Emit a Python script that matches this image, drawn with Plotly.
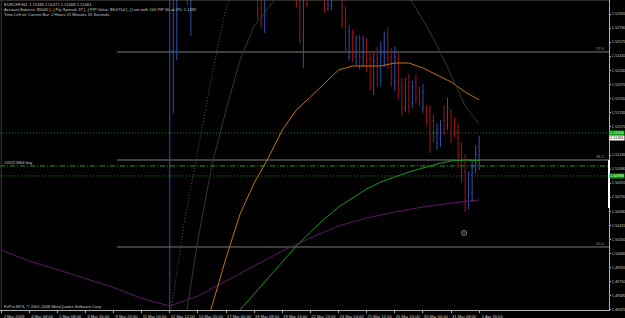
import plotly.graph_objects as go

# ---------------- data ----------------
bar_idx = [48, 49, 50, 53, 54, 73, 74, 75, 84, 85, 86, 87, 92, 93, 94, 97, 98,
           99, 100, 101, 102, 103, 104, 105, 106, 107, 108, 109, 110, 111, 112, 113,
           114, 115, 116, 117, 118, 119, 120, 121, 122, 123, 124, 125, 126, 127, 128,
           129, 130, 131, 132, 133, 134, 135, 136]
bar_open = [1.4880, 1.5248, 1.5248, 1.5340, 1.5280, 1.5330, 1.5310, 1.5275, 1.5320, 1.5305,
            1.5260, 1.5320, 1.5320, 1.5296, 1.5300, 1.5320, 1.5280,
            1.5240, 1.5268, 1.5240, 1.5262, 1.5238, 1.5258, 1.5238, 1.5205, 1.5238, 1.5215,
            1.5245, 1.5265, 1.5240, 1.5212, 1.5238, 1.5205, 1.5180, 1.5205, 1.5185, 1.5210,
            1.5200, 1.5180, 1.5180, 1.5178, 1.5165, 1.5138, 1.5145, 1.5165, 1.5160, 1.5172,
            1.5160, 1.5152, 1.5130, 1.5105, 1.5070, 1.5080, 1.5110, 1.51186]
bar_high = [1.5380, 1.5345, 1.5360, 1.5350, 1.5350, 1.5345, 1.5330, 1.5335, 1.5335, 1.5315,
            1.5312, 1.5330, 1.5330, 1.5330, 1.5325, 1.5330, 1.5300,
            1.5278, 1.5272, 1.5265, 1.5266, 1.5265, 1.5262, 1.5245, 1.5245, 1.5252, 1.5258,
            1.5270, 1.5275, 1.5250, 1.5252, 1.5245, 1.5215, 1.5215, 1.5220, 1.5212, 1.5220,
            1.5205, 1.5208, 1.5183, 1.5183, 1.5172, 1.5162, 1.5166, 1.5183, 1.5192, 1.5178,
            1.5169, 1.5162, 1.5139, 1.5125, 1.5105, 1.5119, 1.5136, 1.51471]
bar_low = [1.4870, 1.5174, 1.5236, 1.5301, 1.5265, 1.5284, 1.5274, 1.5268, 1.5298, 1.5256,
           1.5227, 1.5299, 1.5292, 1.5295, 1.5295, 1.5274, 1.5245,
           1.5236, 1.5234, 1.5230, 1.5225, 1.5228, 1.5222, 1.5200, 1.5195, 1.5205, 1.5205,
           1.5228, 1.5225, 1.5205, 1.5200, 1.5190, 1.5170, 1.5175, 1.5174, 1.5180, 1.5185,
           1.5182, 1.5174, 1.5160, 1.5127, 1.5139, 1.5130, 1.5134, 1.5148, 1.5154, 1.5139,
           1.5146, 1.5109, 1.5092, 1.5057, 1.5060, 1.5069, 1.5103, 1.51068]
bar_close = [1.5330, 1.5325, 1.5335, 1.5310, 1.5330, 1.5290, 1.5278, 1.5320, 1.5302, 1.5258,
             1.5300, 1.5302, 1.5295, 1.5315, 1.5318, 1.5278, 1.5250,
             1.5270, 1.5245, 1.5262, 1.5240, 1.5258, 1.5235, 1.5210, 1.5235, 1.5215, 1.5248,
             1.5262, 1.5238, 1.5215, 1.5240, 1.5200, 1.5180, 1.5205, 1.5182, 1.5205, 1.5192,
             1.5186, 1.5198, 1.5168, 1.5140, 1.5150, 1.5155, 1.5160, 1.5150, 1.5180, 1.5150,
             1.5150, 1.5122, 1.5100, 1.5070, 1.5090, 1.5110, 1.5125, 1.51461]

# moving averages
ma_purple_x = [0, 8, 16, 24, 32, 40, 48, 56, 64, 72, 80, 88, 96, 104, 112, 120, 128, 136]
ma_purple_y = [1.50127, 1.49997, 1.49897, 1.49791, 1.49685, 1.49556, 1.49467, 1.49585,
               1.49762, 1.49938, 1.50115, 1.50268, 1.50409, 1.50503, 1.50574, 1.50633,
               1.50680, 1.50715]

ma_green_x = [64, 68, 72, 76, 80, 84, 88, 92, 96, 100, 104, 108, 112, 116, 120, 124, 128, 132, 136]
ma_green_y = [1.49232, 1.49420, 1.49608, 1.49797, 1.49985, 1.50174, 1.50338, 1.50492,
              1.50633, 1.50739, 1.50845, 1.50927, 1.50986, 1.51045, 1.51092, 1.51139,
              1.51174, 1.51186, 1.51180]

ma_orange_x = [56, 60, 64, 68, 72, 76, 80, 84, 88, 92, 96, 100, 104, 108, 112, 116, 120,
               124, 128, 132, 136]
ma_orange_y = [1.48950, 1.49467, 1.50032, 1.50550, 1.50915, 1.51210, 1.51539, 1.51775,
               1.51928, 1.52093, 1.52246, 1.52293, 1.52293, 1.52293, 1.52328, 1.52328,
               1.52269, 1.52187, 1.52105, 1.51987, 1.51893]

ma_teal_x = [52, 56, 60, 64, 68, 72, 76, 80, 88, 100, 112, 116, 120, 124, 128, 132, 136]
ma_teal_y = [1.49185, 1.50244, 1.51127, 1.51775, 1.52364, 1.52764, 1.52976, 1.53188,
             1.53350, 1.53400, 1.53310, 1.53105, 1.52835, 1.52540, 1.52187, 1.51822, 1.51610]

ma_dot_x = [48, 52, 56, 60, 64, 68, 72]
ma_dot_y = [1.49302, 1.50421, 1.51304, 1.52187, 1.52976, 1.53400, 1.53600]

fib_levels = [1.52458, 1.51186, 1.50162]
fib_labels = ["23.6", "38.2", "50.0"]
fib_start = 33

order_dotted = [1.51504, 1.50998]
order_entry = 1.51116
order_label = "#05222864 buy"
bid_price = 1.51461

x_tickvals = [0, 8, 16, 24, 32, 40, 48, 56, 64, 72, 80, 88, 96, 104, 112, 120, 128, 136]
x_ticktext = ["2 Mar 2009", "4 Mar 08:00", "5 Mar 08:00", "6 Mar 16:00", "9 Mar 20:00",
              "11 Mar 04:00", "12 Mar 12:00", "13 Mar 20:00", "17 Mar 00:00", "18 Mar 08:00",
              "19 Mar 16:00", "22 Mar 23:00", "24 Mar 04:00", "25 Mar 12:00", "26 Mar 20:00",
              "30 Mar 00:00", "31 Mar 08:00", "1 Apr 16:00"]

# (the 1.51410 scale label is hidden under the bid-price box in the reference)
y_tickvals = [1.52905, 1.52740, 1.52575, 1.52410, 1.52240, 1.52075, 1.51910, 1.51745,
              1.51575, 1.51245, 1.51080, 1.50915, 1.50750, 1.50580, 1.50415,
              1.50250, 1.50085, 1.49915, 1.49750, 1.49585, 1.49425]
y_ticktext = ["%.5f" % v for v in y_tickvals]

header_lines = [
    "EURCHF,H4  1.51186 1.51471 1.51068 1.51461",
    "Account Balance: $5000 [--] Pip Spread: 37 [--] PIP Value: $8.6754 [--] Lots with 100 PIP SL at 2%: 1.1492",
    "Time Left on Current Bar: 2 Hours 21 Minutes 35 Seconds",
]
footer_text = "FxPro MT4, \u00a9 2001-2008 MetaQuotes Software Corp."

marker_x = [131.7]
marker_y = [1.50327]

# ---------------- figure ----------------
FS = 4.1
YFS = 3.8
FONT = "Liberation Sans"
TXT = "#c8c8c8"

fig = go.Figure()

fig.add_trace(go.Scatter(x=ma_purple_x, y=ma_purple_y, mode="lines",
                         line=dict(color="#62146a", width=1), hoverinfo="skip"))
fig.add_trace(go.Scatter(x=ma_green_x, y=ma_green_y, mode="lines",
                         line=dict(color="#1c9a1c", width=1), hoverinfo="skip"))
fig.add_trace(go.Scatter(x=ma_orange_x, y=ma_orange_y, mode="lines",
                         line=dict(color="#c8700c", width=1), hoverinfo="skip"))
fig.add_trace(go.Scatter(x=ma_teal_x, y=ma_teal_y, mode="lines",
                         line=dict(color="#243e36", width=1), hoverinfo="skip"))
fig.add_trace(go.Scatter(x=ma_dot_x, y=ma_dot_y, mode="lines",
                         line=dict(color="#505656", width=1, dash="1px,2px"), hoverinfo="skip"))

fig.add_trace(go.Ohlc(x=bar_idx, open=bar_open, high=bar_high, low=bar_low, close=bar_close,
                      increasing=dict(line=dict(color="#3050b0", width=1)),
                      decreasing=dict(line=dict(color="#a01414", width=1)),
                      tickwidth=0.3, hoverinfo="skip"))

fig.add_trace(go.Scatter(x=marker_x, y=marker_y, mode="markers",
                         marker=dict(symbol="circle-open-dot", size=5,
                                     color="#8a8aa0", line=dict(width=1, color="#8a8aa0")),
                         hoverinfo="skip"))

shapes = []
for lv in fib_levels:
    shapes.append(dict(type="line", xref="x", yref="y", x0=fib_start, x1=172.92, y0=lv, y1=lv,
                       line=dict(color="#7c7c7c", width=1), layer="below"))
for lv in order_dotted:
    shapes.append(dict(type="line", xref="paper", yref="y", x0=0, x1=1, y0=lv, y1=lv,
                       line=dict(color="#168a16", width=1, dash="1px,2px"), layer="below"))
shapes.append(dict(type="line", xref="paper", yref="y", x0=0, x1=1, y0=order_entry, y1=order_entry,
                   line=dict(color="#1ea01e", width=1, dash="5px,2px,1px,2px"), layer="below"))
# frame lines
shapes.append(dict(type="line", xref="paper", yref="paper", x0=0, x1=1, y0=1, y1=1,
                   line=dict(color="#5a5a5a", width=1)))
shapes.append(dict(type="line", xref="paper", yref="paper", x0=0.002, x1=0.002, y0=0, y1=1,
                   line=dict(color="#3a3a3a", width=1)))
shapes.append(dict(type="line", xref="paper", yref="y", x0=1, x1=1, y0=1.51186, y1=1.50621,
                   line=dict(color="#ffffff", width=2)))

annotations = []
for lv, lab in zip(fib_levels, fib_labels):
    annotations.append(dict(x=1, xref="paper", y=lv, yref="y", text=lab, showarrow=False,
                            xanchor="right", yanchor="bottom", xshift=-2, yshift=-1,
                            font=dict(size=FS, color="#8c8c8c", family=FONT)))
annotations.append(dict(x=0, xref="paper", y=order_entry, yref="y", text=order_label,
                        showarrow=False, xanchor="left", yanchor="bottom", xshift=2, yshift=-1,
                        font=dict(size=FS, color=TXT, family=FONT)))
for lv in order_dotted:
    annotations.append(dict(x=1, xref="paper", y=lv, yref="y", text="%.5f" % lv, showarrow=False,
                            xanchor="left", yanchor="middle", xshift=0,
                            bgcolor="#0a9a0a", borderpad=0,
                            font=dict(size=YFS, color="#e8ffe8", family=FONT)))
annotations.append(dict(x=1, xref="paper", y=bid_price, yref="y", text="%.5f" % bid_price,
                        showarrow=False, xanchor="left", yanchor="middle", xshift=0, yshift=-1,
                        bgcolor="#ffffff", borderpad=0,
                        font=dict(size=YFS, color="#000000", family=FONT)))
for k, line in enumerate(header_lines):
    annotations.append(dict(x=0, xref="paper", y=1 - (4 + 5 * k) / 310.0, yref="paper",
                            text=line, showarrow=False, xanchor="left", yanchor="middle",
                            xshift=2, font=dict(size=FS, color=TXT, family=FONT)))
annotations.append(dict(x=0, xref="paper", y=1 - 306 / 310.0, yref="paper", text=footer_text,
                        showarrow=False, xanchor="left", yanchor="middle", xshift=2,
                        font=dict(size=FS, color=TXT, family=FONT)))

fig.update_layout(
    width=625, height=318,
    margin=dict(l=0, r=16, t=0, b=8, pad=0),
    paper_bgcolor="#000000", plot_bgcolor="#000000",
    showlegend=False,
    font=dict(family=FONT, size=FS, color=TXT),
    shapes=shapes, annotations=annotations,
    xaxis=dict(range=[-0.284, 172.92], tickmode="array", tickvals=x_tickvals, ticktext=x_ticktext,
               ticks="outside", ticklen=2, tickcolor="#b0b0b0", tickwidth=1,
               showgrid=False, zeroline=False, showline=True, linecolor="#b0b0b0", linewidth=1,
               ticklabelshift=13, ticklabelstandoff=0, automargin=False,
               rangeslider=dict(visible=False), fixedrange=True,
               tickfont=dict(size=FS, color=TXT, family=FONT)),
    yaxis=dict(range=[1.49420, 1.53070], side="right", tickmode="array",
               tickvals=y_tickvals, ticktext=y_ticktext,
               ticks="outside", ticklen=1, tickcolor="#b0b0b0", tickwidth=1,
               showgrid=False, zeroline=False, showline=True, linecolor="#b0b0b0", linewidth=1,
               ticklabelstandoff=0, automargin=False, fixedrange=True,
               tickfont=dict(size=YFS, color=TXT, family=FONT)),
)

fig.write_html("out.html")
